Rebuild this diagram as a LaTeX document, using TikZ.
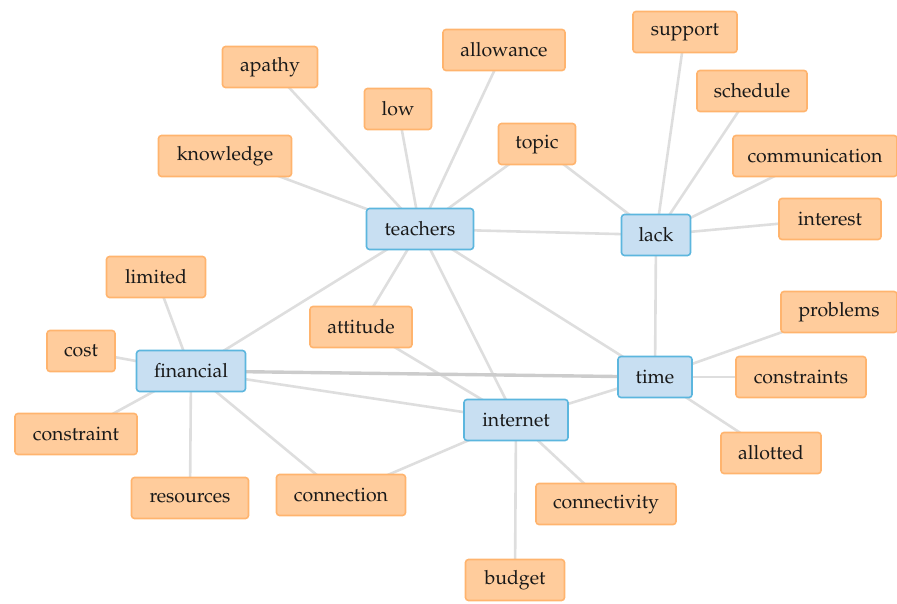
\documentclass[tikz,border=0pt]{standalone}
\usepackage[T1]{fontenc}
\usepackage{mathpazo}
\usetikzlibrary{backgrounds}
\definecolor{wfill}{HTML}{FFCC9C}
\definecolor{wline}{HTML}{FFB46E}
\definecolor{hfill}{HTML}{C8DFF2}
\definecolor{hline}{HTML}{5CB6DE}
\definecolor{edgegray}{HTML}{DEDEDE}
\tikzset{
  word/.style={draw=wline, fill=wfill, line width=1.6pt, rounded corners=3pt,
    minimum height=41pt, inner sep=0pt, font=\fontsize{19.5}{22}\selectfont, text=black!90},
  hub/.style={word, draw=hline, fill=hfill},
  link/.style={draw=edgegray, line width=2.6pt},
  heavy/.style={draw=black!20, line width=3.4pt}
}
\begin{document}
\begin{tikzpicture}[x=1pt,y=-1pt]
\useasboundingbox (0,0) rectangle (897,604);
% hubs
\node[hub, minimum width=107pt] (teachers) at (420,229) {teachers};
\node[hub, minimum width=69pt]  (lack)     at (656,235) {lack};
\node[hub, minimum width=109pt] (financial) at (191,371) {financial};
\node[hub, minimum width=74pt]  (time)     at (655,377) {time};
\node[hub, minimum width=104pt] (internet) at (516,420) {internet};
% leaves
\node[word, minimum width=95pt]  (apathy)      at (270,67)  {apathy};
\node[word, minimum width=122pt] (allowance)   at (504,50)  {allowance};
\node[word, minimum width=67pt]  (low)         at (398,109) {low};
\node[word, minimum width=104pt] (support)     at (685,32)  {support};
\node[word, minimum width=110pt] (schedule)    at (752,91)  {schedule};
\node[word, minimum width=77pt]  (topic)       at (537,144) {topic};
\node[word, minimum width=164pt] (communication) at (815,156) {communication};
\node[word, minimum width=133pt] (knowledge)   at (225,156) {knowledge};
\node[word, minimum width=102pt] (interest)    at (830,219) {interest};
\node[word, minimum width=99pt]  (limited)     at (156,277) {limited};
\node[word, minimum width=102pt] (attitude)    at (361,327) {attitude};
\node[word, minimum width=116pt] (problems)    at (839,312) {problems};
\node[word, minimum width=68pt]  (cost)        at (81,351)  {cost};
\node[word, minimum width=130pt] (constraints) at (801,377) {constraints};
\node[word, minimum width=122pt] (constraint)  at (76,434)  {constraint};
\node[word, minimum width=100pt] (allotted)    at (771,453) {allotted};
\node[word, minimum width=117pt] (resources)   at (190,498) {resources};
\node[word, minimum width=129pt] (connection)  at (341,495) {connection};
\node[word, minimum width=140pt] (connectivity) at (606,504) {connectivity};
\node[word, minimum width=99pt]  (budget)      at (515,580) {budget};
% connectors, drawn behind the boxes
\begin{scope}[on background layer]
  \foreach \a/\b in {teachers/apathy, teachers/allowance, teachers/low,
      teachers/knowledge, teachers/topic, teachers/lack, teachers/financial,
      teachers/attitude, teachers/internet, teachers/time,
      lack/support, lack/schedule, lack/communication, lack/interest,
      lack/topic, lack/time,
      financial/limited, financial/cost, financial/constraint,
      financial/resources, financial/connection, financial/internet,
      time/problems, time/constraints, time/allotted, time/internet,
      internet/budget, internet/connectivity, internet/connection,
      internet/attitude}
    \draw[link] (\a.center) -- (\b.center);
  \draw[heavy] (financial.center) -- (time.center);
\end{scope}
\end{tikzpicture}
\end{document}
